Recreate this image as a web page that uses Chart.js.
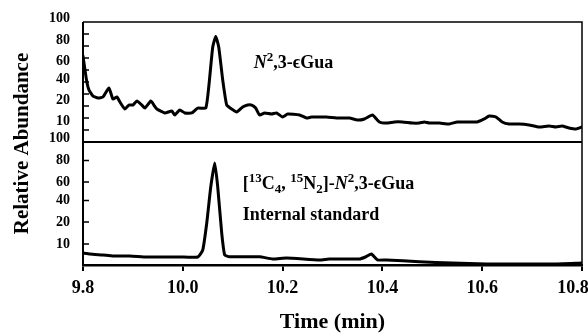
<!DOCTYPE html>
<html><head><meta charset="utf-8">
<script src="https://cdn.jsdelivr.net/npm/chart.js@4"></script>
<style>html,body{margin:0;padding:0;background:#fff;}</style>
</head><body>
<canvas id="c" width="588" height="336"></canvas>
<script>
// ---- data ----
const xTickValues = [9.8, 10.0, 10.2, 10.4, 10.6, 10.8];
const xTickLabels = ['9.8', '10.0', '10.2', '10.4', '10.6', '10.8'];
const yTickLabels = ['10', '20', '40', '60', '80', '100'];
const yTickPositions = [17, 35, 52.5, 67.5, 85, 103];
const topMarkValues = [10, 20, 30, 40, 50, 60, 70, 80, 90];
const bottomMarkValues = [17, 35, 52.5, 67.5, 85];

const topTime = [9.800, 9.807, 9.812, 9.820, 9.830, 9.840, 9.852, 9.860, 9.868, 9.874, 9.884, 9.892, 9.900, 9.908, 9.918, 9.924, 9.936, 9.942, 9.948, 9.964, 9.978, 9.984, 9.994, 10.004, 10.018, 10.030, 10.046, 10.052, 10.060, 10.066, 10.072, 10.080, 10.088, 10.098, 10.108, 10.120, 10.130, 10.138, 10.146, 10.154, 10.164, 10.178, 10.188, 10.200, 10.210, 10.234, 10.248, 10.258, 10.288, 10.308, 10.334, 10.350, 10.364, 10.380, 10.394, 10.408, 10.424, 10.440, 10.460, 10.474, 10.484, 10.494, 10.514, 10.534, 10.550, 10.574, 10.590, 10.604, 10.614, 10.628, 10.640, 10.654, 10.674, 10.694, 10.714, 10.734, 10.748, 10.760, 10.774, 10.788, 10.800];
const topAbundance = [71.7, 51.7, 43.3, 38.3, 36.7, 37.5, 45.0, 35.8, 37.5, 33.3, 27.5, 30.8, 30.8, 34.2, 30.8, 28.3, 34.2, 30.8, 27.5, 24.2, 25.8, 22.5, 26.7, 24.2, 24.2, 28.3, 28.3, 45.8, 79.2, 88.0, 79.2, 51.7, 30.8, 27.5, 25.0, 29.2, 30.8, 30.8, 28.3, 22.5, 24.2, 23.3, 24.2, 20.8, 23.3, 22.5, 20.0, 20.8, 20.8, 20.0, 20.0, 18.3, 19.2, 22.5, 16.7, 15.8, 16.7, 16.7, 15.8, 15.8, 16.7, 15.8, 15.8, 15.0, 16.7, 16.7, 16.7, 19.2, 21.7, 20.8, 16.7, 15.0, 15.0, 14.2, 12.5, 13.3, 12.5, 13.3, 11.7, 10.8, 12.5];

const bottomTime = [9.800, 9.814, 9.840, 9.860, 9.894, 9.928, 9.994, 10.030, 10.040, 10.048, 10.056, 10.064, 10.070, 10.078, 10.084, 10.094, 10.154, 10.180, 10.208, 10.274, 10.294, 10.354, 10.366, 10.378, 10.390, 10.408, 10.474, 10.540, 10.608, 10.740, 10.800];
const bottomAbundance = [9.8, 8.9, 8.1, 7.3, 7.3, 6.5, 6.5, 6.5, 12.2, 34.1, 63.4, 82.9, 63.4, 26.0, 8.1, 6.7, 6.7, 4.9, 5.7, 4.1, 4.9, 4.9, 6.5, 8.9, 4.1, 4.1, 2.7, 1.6, 0.8, 0.8, 1.6];

// ---- styles ----
const serif = "'Liberation Serif', 'Times New Roman', 'DejaVu Serif', serif";

const annotations = [
  { scale: 'yTop', x: 10.142, y: 61.7, segs: [
    { t: 'N', i: true }, { t: '2', k: 'sup' }, { t: ',3-\u03F5Gua' } ] },
  { scale: 'yBot', x: 10.12, y: 61.8, segs: [
    { t: '[' }, { t: '13', k: 'sup' }, { t: 'C' }, { t: '4', k: 'sub' }, { t: ', ' },
    { t: '15', k: 'sup' }, { t: 'N' }, { t: '2', k: 'sub' }, { t: ']-' },
    { t: 'N', i: true }, { t: '2', k: 'sup' }, { t: ',3-\u03F5Gua' } ] },
  { scale: 'yBot', x: 10.12, y: 36.6, segs: [ { t: 'Internal standard' } ] }
];

const framePlugin = {
  id: 'frame',
  afterDraw(chart) {
    const { ctx, chartArea: a, scales } = chart;
    ctx.save();
    ctx.strokeStyle = '#000';
    ctx.lineWidth = 1.5;
    ctx.beginPath();
    ctx.moveTo(a.left, a.top); ctx.lineTo(a.right, a.top); ctx.lineTo(a.right, a.bottom);
    ctx.stroke();
    ctx.lineWidth = 2;
    ctx.beginPath();
    ctx.moveTo(a.left, a.top); ctx.lineTo(a.left, a.bottom);
    const sep = scales.yTop.getPixelForValue(0);
    ctx.moveTo(a.left, sep); ctx.lineTo(a.right, sep);
    ctx.stroke();
    ctx.lineWidth = 1.5;
    ctx.beginPath();
    topMarkValues.forEach(v => { const y = scales.yTop.getPixelForValue(v); ctx.moveTo(a.left, y); ctx.lineTo(a.left + 6, y); });
    bottomMarkValues.forEach(v => { const y = scales.yBot.getPixelForValue(v); ctx.moveTo(a.left, y); ctx.lineTo(a.left + 6, y); });
    ctx.stroke();
    // annotations
    ctx.fillStyle = '#000';
    ctx.textBaseline = 'alphabetic';
    ctx.textAlign = 'left';
    const size = 18;
    annotations.forEach(an => {
      let cx = scales.x.getPixelForValue(an.x);
      const by = scales[an.scale].getPixelForValue(an.y);
      an.segs.forEach(s => {
        const small = s.k === 'sup' || s.k === 'sub';
        const fs = small ? 13 : size;
        ctx.font = (s.i ? 'italic ' : '') + 'bold ' + fs + 'px ' + serif;
        const dy = s.k === 'sup' ? -7 : (s.k === 'sub' ? 4 : 0);
        ctx.fillText(s.t, cx, by + dy);
        cx += ctx.measureText(s.t).width;
      });
    });
    ctx.restore();
  }
};

const yAxis = (weight) => ({
  type: 'linear', position: 'left', stack: 'panels', stackWeight: weight,
  min: 0, max: 100,
  afterFit: s => { s.width = 47; },
  afterBuildTicks: s => { s.ticks = yTickPositions.map(v => ({ value: v })); },
  ticks: { autoSkip: false, padding: 13, color: '#000',
    font: { family: serif, size: 14, weight: 'bold' },
    callback: (v, i) => yTickLabels[i] },
  grid: { display: false, drawTicks: false },
  border: { display: false }
});

const lineDs = (t, v, axis) => ({
  data: t.map((x, i) => ({ x: x, y: v[i] })),
  yAxisID: axis, borderColor: '#000', borderWidth: 3, pointRadius: 0,
  tension: 0.15, fill: false, borderJoinStyle: 'round', borderCapStyle: 'round'
});

new Chart(document.getElementById('c'), {
  type: 'line',
  data: { datasets: [
    lineDs(topTime, topAbundance, 'yTop'),
    lineDs(bottomTime, bottomAbundance, 'yBot')
  ] },
  options: {
    responsive: false, animation: false, devicePixelRatio: 1,
    layout: { padding: { top: 22, right: 6, left: 0, bottom: 0 } },
    plugins: { legend: { display: false }, tooltip: { enabled: false } },
    scales: {
      x: {
        type: 'linear', position: 'bottom', min: 9.8, max: 10.8,
        afterBuildTicks: s => { s.ticks = xTickValues.map(v => ({ value: v })); },
        afterFit: s => { s.height = 71; s.paddingLeft = 0; s.paddingRight = 0; },
        ticks: { autoSkip: false, maxRotation: 0, padding: 7, color: '#000',
          font: { family: serif, size: 18, weight: 'bold' },
          callback: (v, i) => i === xTickLabels.length - 1 ? xTickLabels[i] + '\u00a0\u00a0\u00a0\u00a0' : xTickLabels[i] },
        grid: { display: true, drawOnChartArea: false, drawTicks: true, tickLength: 6, color: '#000', lineWidth: 2 },
        border: { display: true, color: '#000', width: 2.5 },
        title: { display: true, text: 'Time (min)', color: '#000',
          font: { family: serif, size: 22, weight: 'bold' }, padding: { top: 0, bottom: 0 } }
      },
      yTitle: {
        type: 'linear', position: 'left', weight: 1,
        afterFit: s => { s.width = 36; },
        ticks: { display: false }, grid: { display: false }, border: { display: false },
        title: { display: true, text: 'Relative Abundance', color: '#000',
          font: { family: serif, size: 21, weight: 'bold' }, padding: { top: 10, bottom: 0 } }
      },
      yBot: yAxis(123),
      yTop: yAxis(120)
    }
  },
  plugins: [framePlugin]
});
</script>
</body></html>
